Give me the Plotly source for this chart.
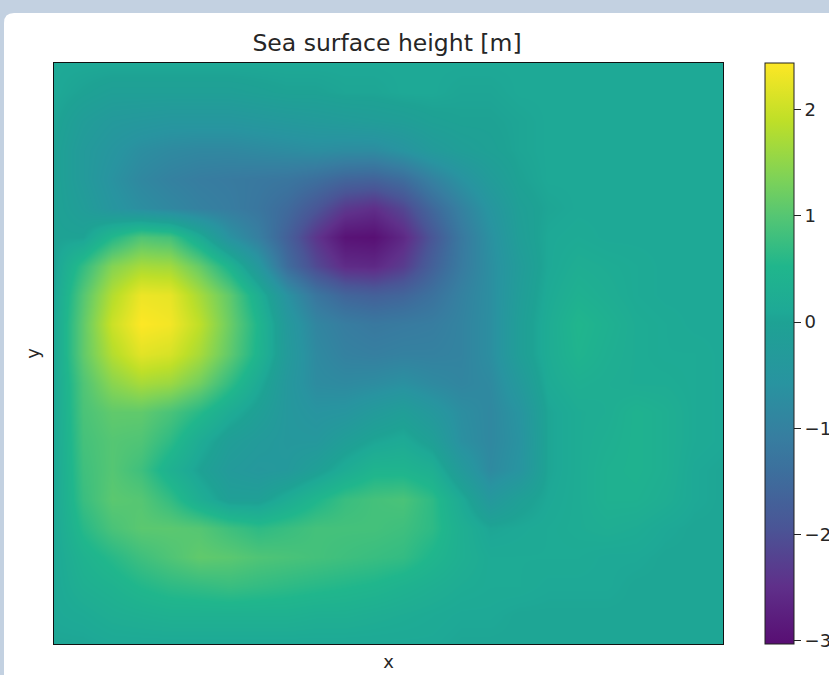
import plotly.graph_objects as go

x_index = list(range(24))
y_index = list(range(20, -1, -1))

r00 = [.1, .1, .1, .1, .1, .1, .1, .1, .1, .1, .1, .1, .1, .1, .1, .1, .1, .1, .1, .1, .1, .1, .1, .1]
r01 = [.1, 0, -.1, -.1, -.1, -.1, -.1, -.05, 0, 0, .05, .05, .1, .1, .05, .05, .1, .1, .1, .1, .1, .1, .1, .1]
r02 = [.05, -.2, -.35, -.4, -.45, -.45, -.45, -.4, -.35, -.3, -.25, -.2, -.15, -.05, 0, 0, .05, .1, .1, .1, .1, .1, .1, .1]
r03 = [0, -.3, -.5, -.7, -.8, -.85, -.85, -.8, -.75, -.7, -.75, -.75, -.55, -.3, -.15, -.05, .05, .1, .1, .1, .1, .1, .1, .1]
r04 = [0, -.3, -.6, -.85, -1.0, -1.1, -1.15, -1.2, -1.25, -1.4, -1.6, -1.65, -1.45, -1.0, -.6, -.25, 0, .1, .1, .1, .1, .1, .1, .1]
r05 = [0, -.2, -.5, -.7, -.85, -1.0, -1.1, -1.25, -1.5, -1.9, -2.35, -2.5, -2.15, -1.55, -1.0, -.5, -.1, .05, .1, .1, .1, .1, .1, .1]
r06 = [0, 0, .55, .95, .85, .2, -.6, -1.05, -1.7, -2.4, -2.95, -3.0, -2.6, -1.9, -1.2, -.65, -.15, .1, .15, .1, .1, .1, .1, .1]
r07 = [0, .7, 1.4, 1.7, 1.65, 1.15, .45, -.4, -1.45, -2.1, -2.55, -2.6, -2.3, -1.7, -1.15, -.7, -.25, .1, .25, .2, .15, .1, .1, .1]
r08 = [.05, 1.0, 1.8, 2.3, 2.25, 1.7, 1.1, .3, -.6, -1.25, -1.6, -1.7, -1.6, -1.35, -1.0, -.7, -.2, .15, .35, .25, .15, .1, .1, .1]
r09 = [.1, 1.1, 2.0, 2.44, 2.35, 1.9, 1.2, .5, -.35, -.9, -1.1, -1.2, -1.15, -1.1, -.95, -.7, -.15, .2, .5, .35, .2, .15, .1, .1]
r10 = [.1, 1.1, 1.8, 2.2, 2.1, 1.7, 1.1, .45, -.3, -.8, -1.0, -1.05, -1.0, -1.0, -.95, -.7, -.15, .2, .45, .3, .2, .15, .15, .1]
r11 = [.1, .95, 1.45, 1.7, 1.6, 1.25, .7, .15, -.4, -.75, -.8, -.75, -.65, -.8, -.9, -.8, -.35, .15, .3, .25, .2, .2, .15, .1]
r12 = [.1, .9, 1.1, 1.1, .9, .6, .2, -.1, -.4, -.55, -.5, -.3, -.15, -.4, -.7, -.85, -.55, .05, .2, .25, .4, .3, .15, .1]
r13 = [.1, .85, 1.0, .95, .65, .2, -.15, -.3, -.4, -.4, -.15, .05, .15, -.1, -.65, -.85, -.6, .05, .2, .3, .4, .3, .15, .1]
r14 = [.1, .8, 1.0, .8, .35, 0, -.3, -.4, -.35, -.1, .2, .45, .45, .3, -.3, -.8, -.55, .05, .2, .35, .4, .3, .1, .05]
r15 = [.1, .75, 1.05, 1.0, .7, .25, -.1, -.1, .2, .5, .75, .85, .9, .65, .15, -.4, -.1, .1, .2, .35, .35, .25, .1, .05]
r16 = [.1, .6, .9, 1.05, 1.05, 1.0, .8, .65, .75, .85, .85, .85, .8, .65, .3, .05, .1, .15, .2, .25, .2, .1, .05, .05]
r17 = [.1, .4, .6, .8, .95, 1.1, 1.05, .95, .9, .85, .8, .75, .7, .5, .3, .15, .15, .15, .15, .1, .1, .05, .05, .05]
r18 = [.1, .3, .4, .55, .65, .7, .75, .7, .65, .6, .55, .5, .4, .3, .2, .15, .15, .1, .1, .1, .05, .05, .05, .05]
r19 = [.1, .15, .25, .3, .35, .35, .35, .35, .35, .3, .3, .25, .2, .15, .1, .1, .05, .05, .05, .05, .05, .05, .05, .05]
r20 = [.05, .05, .1, .1, .1, .1, .1, .1, .1, .1, .1, .1, .1, .1, .05, .05, .05, .05, .05, .05, .05, .05, .05, .05]
ssh = [r00, r01, r02, r03, r04, r05, r06, r07, r08, r09, r10,
       r11, r12, r13, r14, r15, r16, r17, r18, r19, r20]

tick_values = [2, 1, 0, -1, -2, -3]
tick_labels = ["2", "1", "0", "\u22121", "\u22122", "\u22123"]
z_min, z_max = -3.03, 2.44

palette = [
    [0.0, "rgb(88,14,115)"],
    [0.1, "rgb(95,48,138)"],
    [0.2, "rgb(74,85,150)"],
    [0.3, "rgb(60,112,157)"],
    [0.353, "rgb(55,125,160)"],
    [0.45, "rgb(40,148,160)"],
    [0.554, "rgb(30,162,148)"],
    [0.572, "rgb(30,169,150)"],
    [0.65, "rgb(32,182,140)"],
    [0.737, "rgb(85,198,115)"],
    [0.8, "rgb(125,210,88)"],
    [0.9, "rgb(190,223,40)"],
    [1.0, "rgb(253,231,37)"],
]

W, H = 829, 675
L, R, T, B = 54, 723, 63, 644
pw, ph = R - L, B - T
FONT = "DejaVu Sans"
INK = "#262626"

fig = go.Figure(go.Heatmap(
    x=x_index, y=y_index, z=ssh, zsmooth="best",
    colorscale=palette, zmin=z_min, zmax=z_max,
    colorbar=dict(
        x=(765 - L) / pw, xanchor="left", xpad=0, ypad=0,
        y=0.5, yanchor="middle", len=1, lenmode="fraction",
        thickness=29, thicknessmode="pixels",
        outlinecolor="#222", outlinewidth=1,
        tickmode="array", tickvals=tick_values, ticktext=tick_labels,
        ticks="outside", ticklen=7, tickwidth=1, tickcolor="#222",
        tickfont=dict(family=FONT, size=18, color=INK),
    ),
))

cx0, cy0 = (4 - L) / pw, (B - 13) / ph
cx1, cy1 = (W + 20 - L) / pw, (B - (H + 20)) / ph
rx, ry = 10 / pw, 10 / ph
card = (f"M {cx0+rx} {cy0} L {cx1} {cy0} L {cx1} {cy1} L {cx0} {cy1} L {cx0} {cy0-ry} "
        f"Q {cx0} {cy0} {cx0+rx} {cy0} Z")

fig.update_layout(
    width=W, height=H, autosize=False,
    margin=dict(l=L, r=W - R, t=T, b=H - B, pad=0, autoexpand=False),
    paper_bgcolor="#c3d1e1", plot_bgcolor="white",
    font=dict(family=FONT, size=18, color=INK),
    title=dict(text="Sea surface height [m]", x=(L + R - 3) / 2 / W, xanchor="center",
               y=1 - 43 / H, yanchor="middle", font=dict(family=FONT, size=23.5, color=INK)),
    shapes=[dict(type="path", path=card, xref="paper", yref="paper", layer="below",
                 fillcolor="white", line=dict(width=0))],
    xaxis=dict(title=dict(text="x", standoff=11, font=dict(family=FONT, size=18, color=INK)),
               showticklabels=False, ticks="", showgrid=False, zeroline=False,
               showline=True, linecolor="#111", linewidth=1, mirror=True,
               range=[0, 23]),
    yaxis=dict(title=dict(text="y", standoff=8, font=dict(family=FONT, size=18, color=INK)),
               showticklabels=False, ticks="", showgrid=False, zeroline=False,
               showline=True, linecolor="#111", linewidth=1, mirror=True,
               range=[0, 20]),
)

fig.write_html("out.html", config=dict(displayModeBar=False),
               post_script="document.body.style.margin='0';document.body.style.overflow='hidden';")
